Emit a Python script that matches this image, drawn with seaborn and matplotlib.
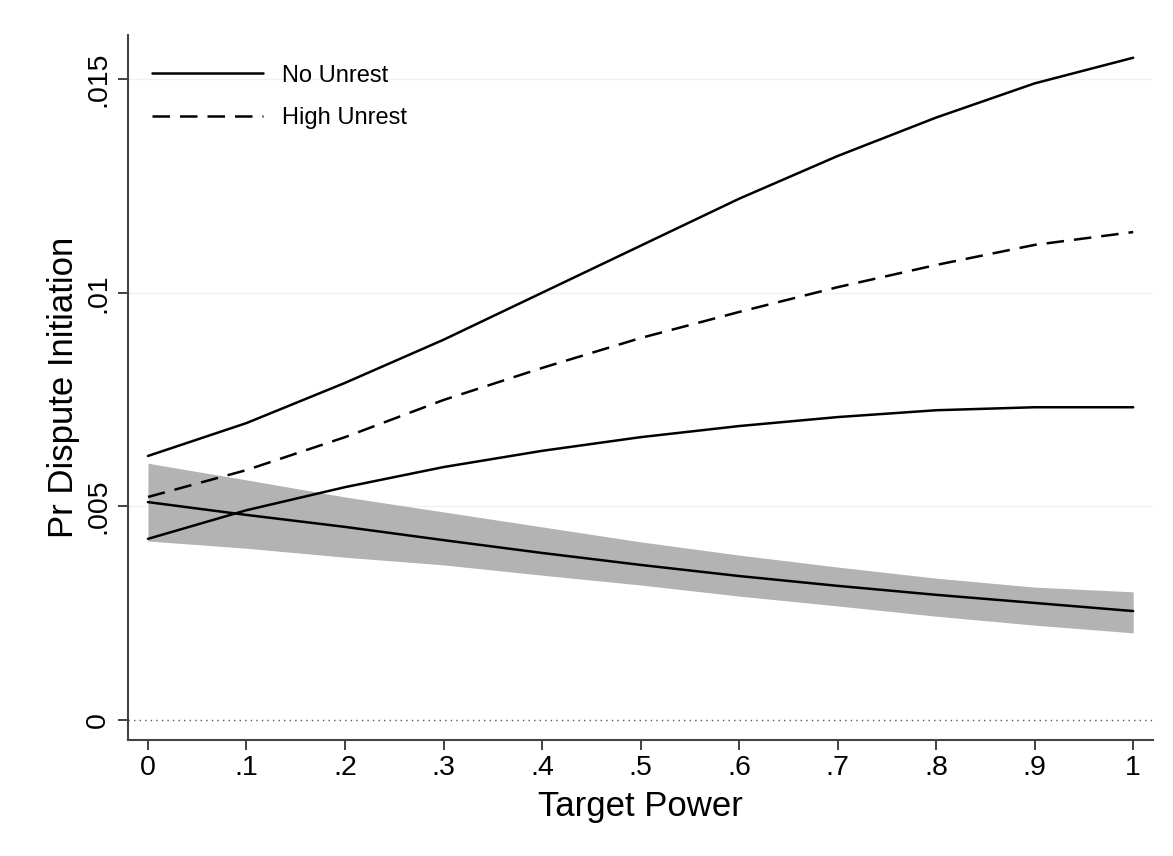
import matplotlib
matplotlib.use("Agg")
import matplotlib.pyplot as plt
import pandas as pd
import seaborn as sns

# -----------------------------
#  Data
# -----------------------------
target_power = [0.0, 0.1, 0.2, 0.3, 0.4, 0.5, 0.6, 0.7, 0.8, 0.9, 1.0]

no_unrest = [0.00510, 0.00480, 0.00452, 0.00421, 0.00391, 0.00363,
             0.00337, 0.00314, 0.00293, 0.00274, 0.00255]
no_unrest_lo = [0.00419, 0.00402, 0.00381, 0.00363, 0.00339, 0.00316,
                0.00290, 0.00267, 0.00243, 0.00222, 0.00204]
no_unrest_hi = [0.00601, 0.00562, 0.00522, 0.00487, 0.00452, 0.00417,
                0.00386, 0.00358, 0.00332, 0.00311, 0.00300]

high_unrest = [0.00522, 0.00585, 0.00662, 0.00749, 0.00824, 0.00894,
               0.00955, 0.01013, 0.01065, 0.01112, 0.01142]
high_unrest_lo = [0.00424, 0.00491, 0.00545, 0.00592, 0.00630, 0.00662,
                  0.00688, 0.00709, 0.00725, 0.00732, 0.00732]
high_unrest_hi = [0.00618, 0.00695, 0.00789, 0.00890, 0.01000, 0.01110,
                  0.01220, 0.01320, 0.01410, 0.01490, 0.01550]

x_ticks = [0, .1, .2, .3, .4, .5, .6, .7, .8, .9, 1]
x_labels = ["0", ".1", ".2", ".3", ".4", ".5", ".6", ".7", ".8", ".9", "1"]
y_ticks = [0, .005, .01, .015]
y_labels = ["0", ".005", ".01", ".015"]

# -----------------------------
#  Style
# -----------------------------
sns.set_style("white")
plt.rcParams["font.family"] = ["Liberation Sans", "DejaVu Sans"]
plt.rcParams["text.color"] = "black"

fig = plt.figure(figsize=(11.73, 8.56), dpi=100)
ax = fig.add_axes([0.1091, 0.1355, 0.874, 0.8235])

means = pd.DataFrame({
    "power": target_power * 2,
    "prob": no_unrest + high_unrest,
    "group": ["No Unrest"] * len(target_power) + ["High Unrest"] * len(target_power),
})
bounds = pd.DataFrame({
    "power": target_power * 2,
    "prob": high_unrest_lo + high_unrest_hi,
    "bound": ["lo"] * len(target_power) + ["hi"] * len(target_power),
})

# confidence band for no unrest
ax.fill_between(target_power, no_unrest_lo, no_unrest_hi,
                color="#b3b3b3", lw=0, zorder=1)

# bounds around high unrest (solid lines)
sns.lineplot(data=bounds, x="power", y="prob", units="bound", estimator=None,
             color="black", lw=1.8, ax=ax, legend=False, zorder=3)

# predicted probabilities
sns.lineplot(data=means, x="power", y="prob", style="group",
             style_order=["No Unrest", "High Unrest"],
             dashes={"No Unrest": "", "High Unrest": (7, 4)},
             color="black", lw=1.8, ax=ax, zorder=4)

# zero reference line + faint grid
ax.axhline(0, color="#555555", lw=1.0, ls=(0, (1, 3)), zorder=2)
for yv in y_ticks[1:]:
    ax.axhline(yv, color="#eef2f4", lw=1.0, zorder=0)

ax.set_xlim(-0.0203, 1.0203)
ax.set_ylim(-0.000468, 0.01603)

ax.set_xticks(x_ticks)
ax.set_xticklabels(x_labels)
ax.set_yticks(y_ticks)
ax.set_yticklabels(y_labels, rotation=90, va="center")

ax.tick_params(axis="both", direction="out", length=7, width=1.3,
               bottom=True, left=True,
               color="#333333", labelsize=20.5, labelcolor="black")
ax.tick_params(axis="y", pad=5)
ax.tick_params(axis="x", pad=4)

for side in ["top", "right"]:
    ax.spines[side].set_visible(False)
for side in ["left", "bottom"]:
    ax.spines[side].set_color("#444444")
    ax.spines[side].set_linewidth(1.5)

ax.set_xlabel("Target Power", fontsize=25, labelpad=6, color="black")
ax.set_ylabel("Pr Dispute Initiation", fontsize=25, labelpad=4, color="black")

handles, labels = ax.get_legend_handles_labels()
ax.legend(handles, labels, loc="upper left",
          bbox_to_anchor=(0.0234, 0.958), frameon=False,
          fontsize=17, handlelength=4.7, handletextpad=0.8,
          labelspacing=0.85, borderpad=0, borderaxespad=0)

fig.savefig("out.png", dpi=100, facecolor="white")
